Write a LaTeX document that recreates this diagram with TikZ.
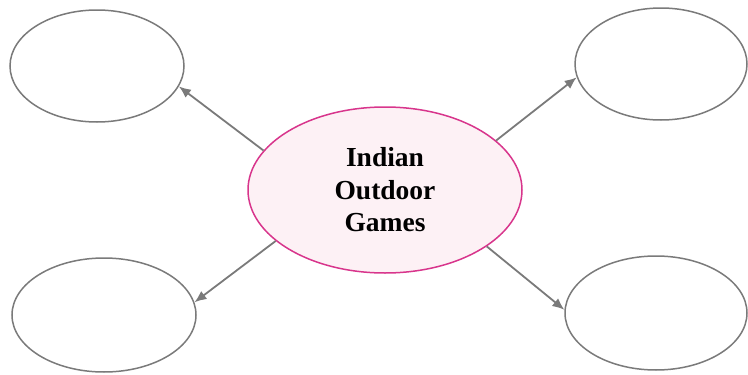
\documentclass[tikz,border=0pt]{standalone}
\usepackage{fontspec}
\setmainfont{Liberation Serif}
\usepackage{tikz}
\usetikzlibrary{arrows.meta,shapes.geometric,positioning,calc}
\definecolor{rimgray}{HTML}{7A7A7A}
\definecolor{hubpink}{HTML}{D8358C}
\definecolor{hubfill}{HTML}{FDF1F5}
\tikzset{
  leaf/.style={ellipse,draw=rimgray,line width=1.5pt,inner sep=0pt},
  hub/.style={ellipse,draw=hubpink,fill=hubfill,line width=1.5pt,inner sep=0pt,
    minimum width=274pt,minimum height=166pt,align=center,
    font=\fontsize{27.5}{32.5}\selectfont\bfseries},
  link/.style={draw=rimgray,line width=1.8pt,-{Latex[length=12pt,width=10pt]}}
}
\begin{document}
\begin{tikzpicture}[x=1pt,y=-1pt]
\useasboundingbox (0,0) rectangle (748,375);
\node[hub] (G) at (385,190) {Indian\\Outdoor\\Games};
\node[leaf,minimum width=174pt,minimum height=112pt] (TL) at (97,66) {};
\node[leaf,minimum width=172pt,minimum height=112pt] (TR) at (661,64) {};
\node[leaf,minimum width=184pt,minimum height=114pt] (BL) at (104,315) {};
\node[leaf,minimum width=182pt,minimum height=114pt] (BR) at (656,313) {};
\draw[link] (G.162) -- (TL.346);
\draw[link] (G.24) -- (TR.189);
\draw[link] (G.205) -- (BL.8);
\draw[link] (G.331) -- (BR.178);
\end{tikzpicture}
\end{document}
